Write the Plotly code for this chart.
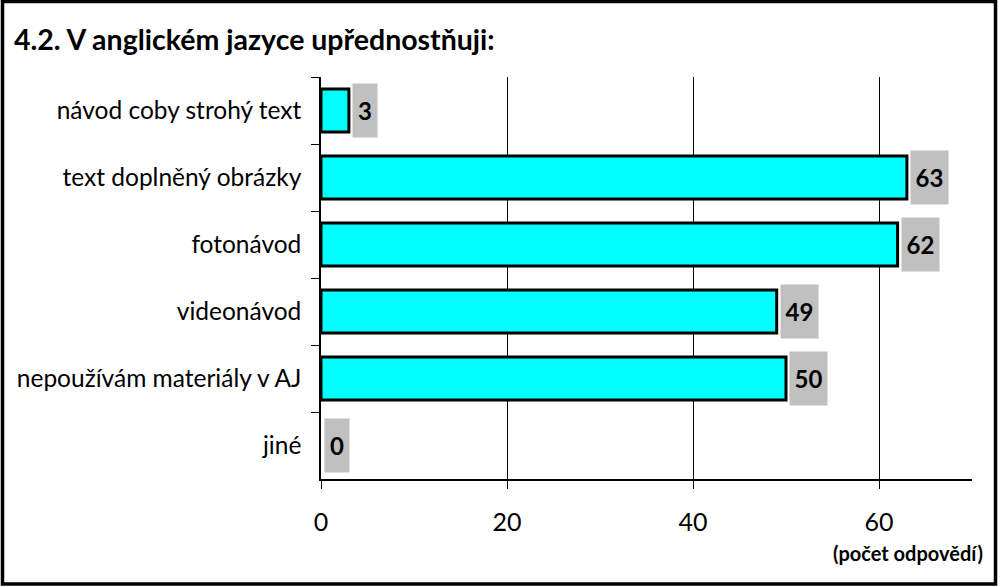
import plotly.graph_objects as go

categories = ["návod coby strohý text", "text doplněný obrázky", "fotonávod",
              "videonávod", "nepoužívám materiály v AJ", "jiné"]
values = [3, 63, 62, 49, 50, 0]
x_ticks = [0, 20, 40, 60]
title = "4.2. V anglickém jazyce upřednostňuji:"
x_title = "(počet odpovědí)"

W, H = 1001, 587
L, R, T, B = 321, 29, 77, 108
pw, ph = W - L - R, H - T - B
FONT = "Lato"

fig = go.Figure()
fig.add_trace(go.Bar(
    y=categories, x=values, orientation="h", width=0.64,
    marker=dict(color="#00FFFF",
                line=dict(color="black", width=[3 if v else 0 for v in values])),
    hoverinfo="skip",
))

for c, v in zip(categories, values):
    s = str(v)
    fig.add_annotation(
        x=v, y=c, xref="x", yref="y", text="<b>%s</b>" % s,
        showarrow=False, xanchor="left", yanchor="middle", xshift=3,
        bgcolor="#C0C0C0", width=13 * len(s) + 9, height=51,
        font=dict(family=FONT, size=24, color="black"),
    )

fig.add_annotation(
    x=1 + 13 / pw, y=-(553 - (T + ph)) / ph, xref="paper", yref="paper",
    text="<b>%s</b>" % x_title, showarrow=False, xanchor="right", yanchor="middle",
    font=dict(family=FONT, size=20, color="black"),
)

# outer frame
fig.add_shape(
    type="rect", xref="paper", yref="paper",
    x0=(2.5 - L) / pw, x1=(995.5 - L) / pw,
    y0=-(584 - T - ph) / ph,
    y1=1 + (T - 1.5) / ph,
    line=dict(color="black", width=3.5), layer="above",
)

fig.update_layout(
    width=W, height=H, margin=dict(l=L, r=R, t=T, b=B),
    paper_bgcolor="white", plot_bgcolor="white", showlegend=False,
    title=dict(text="<b>%s</b>" % title, x=14 / W, xanchor="left",
               y=1 - 40 / H, yanchor="middle",
               font=dict(family=FONT, size=28.5, color="black")),
    font=dict(family=FONT, color="black"),
    bargap=0.36,
)
fig.update_xaxes(
    range=[0, 70], tickvals=x_ticks, showgrid=True, gridcolor="black", gridwidth=1.2,
    zeroline=False, showline=True, linecolor="black", linewidth=1.5,
    ticks="outside", ticklen=8, tickcolor="black", tickwidth=1.2,
    ticklabelstandoff=12, tickfont=dict(family=FONT, size=25, color="black"),
)
fig.update_yaxes(
    type="category", autorange="reversed", tickson="boundaries",
    showgrid=False, showline=True, linecolor="black", linewidth=1.5,
    ticks="outside", ticklen=8, tickcolor="black", tickwidth=1.2,
    ticklabelstandoff=13, tickfont=dict(family=FONT, size=24.5, color="black"),
)

fig.write_html("out.html", config={"displayModeBar": False},
               post_script="document.body.style.margin='0px';")
